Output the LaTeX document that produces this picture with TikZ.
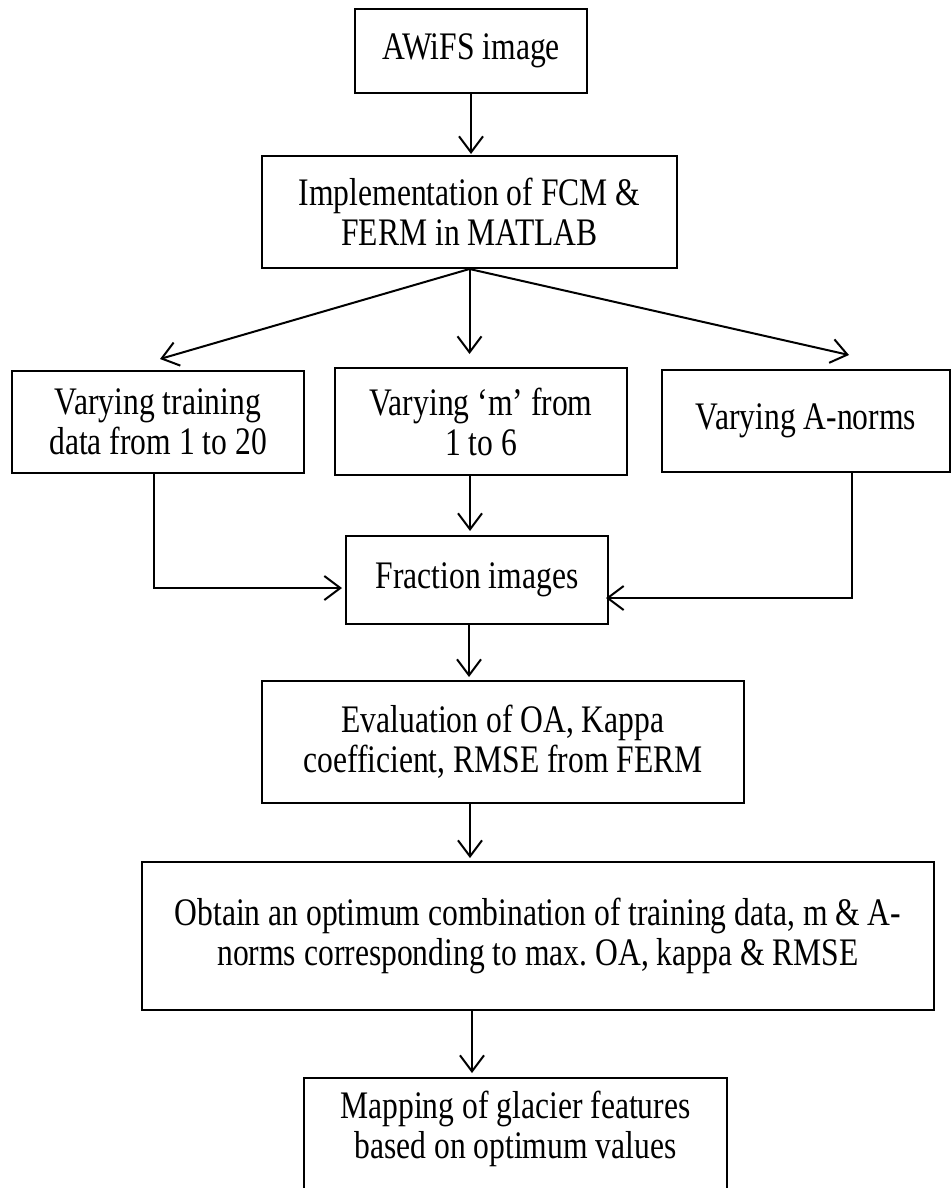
\documentclass[tikz,border=0pt]{standalone}
\usepackage{fontspec}
\setmainfont{Liberation Serif}[FakeStretch=0.81]
\usetikzlibrary{arrows.meta,calc}
\begin{document}
\begin{tikzpicture}[x=1pt,y=-1pt,
  box/.style={draw, line width=2pt, align=center, inner sep=0pt,
    font=\fontsize{39}{40}\selectfont},
  arr/.style={line width=2pt, -{Straight Barb[length=16pt,width=24pt]}}]
\useasboundingbox (0,0) rectangle (951,1188);
\clip (0,0) rectangle (951,1188);
% boxes
\node[box, minimum width=232pt, minimum height=84pt]  (b1) at (471,51)    {AWiFS image};
\node[box, minimum width=415pt, minimum height=112pt] (b2) at (469.5,212) {Implementation of FCM \&\\FERM in MATLAB};
\node[box, minimum width=292pt, minimum height=102pt] (l)  at (158,422)   {Varying training\\data from 1 to 20};
\node[box, minimum width=292pt, minimum height=107pt] (m)  at (481,421.5) {Varying ‘m’ from\\1 to 6};
\node[box, minimum width=288pt, minimum height=102pt] (r)  at (806,421)   {Varying A-norms};
\node[box, minimum width=262pt, minimum height=88pt]  (f)  at (477,580)   {Fraction images};
\node[box, minimum width=482pt, minimum height=122pt] (e)  at (503,742)   {Evaluation of OA, Kappa\\coefficient, RMSE from FERM};
\node[box, minimum width=792pt, minimum height=148pt] (o)  at (538,936)   {Obtain an optimum combination of training data, m \& A-\\norms corresponding to max.\ OA, kappa \& RMSE};
\node[box, anchor=north, minimum width=423pt, text height=80pt, text depth=85pt] (g) at (515.5,1077) {Mapping of glacier features\\based on optimum values};
% helper coordinates
\coordinate (lt)  at ($(l.north)+(2,-11)$);
\coordinate (rt)  at ($(r.north)+(43,-14)$);
\coordinate (ls)  at ($(l.south)+(-4,0)$);
\coordinate (fw)  at ($(f.west)+(0,8)$);
\coordinate (rs)  at ($(r.south)+(46,0)$);
\coordinate (fe)  at ($(f.east)+(0,18)$);
\coordinate (fn)  at ($(f.north)+(-7,0)$);
\coordinate (fs)  at ($(f.south)+(-8,0)$);
\coordinate (es)  at ($(e.south)+(-33,0)$);
\coordinate (os)  at ($(o.south)+(-66,0)$);
% connectors
\draw[arr, shorten >=1pt] (b1.south) -- (b1.south |- b2.north);
\draw[arr] (b2.south) -- (lt);
\draw[arr, shorten >=13pt] (b2.south) -- (b2.south |- m.north);
\draw[arr] (b2.south) -- (rt);
\draw[arr, shorten >=3pt] (ls) |- (fw);
\draw[arr, shorten >=-3pt] (rs) |- (fe);
\draw[arr, shorten >=4pt] (fn |- m.south) -- (fn);
\draw[arr, shorten >=3pt] (fs) -- (fs |- e.north);
\draw[arr, shorten >=3pt] (es) -- (es |- o.north);
\draw[arr, shorten >=4pt] (os) -- (os |- g.north);
\end{tikzpicture}
\end{document}
